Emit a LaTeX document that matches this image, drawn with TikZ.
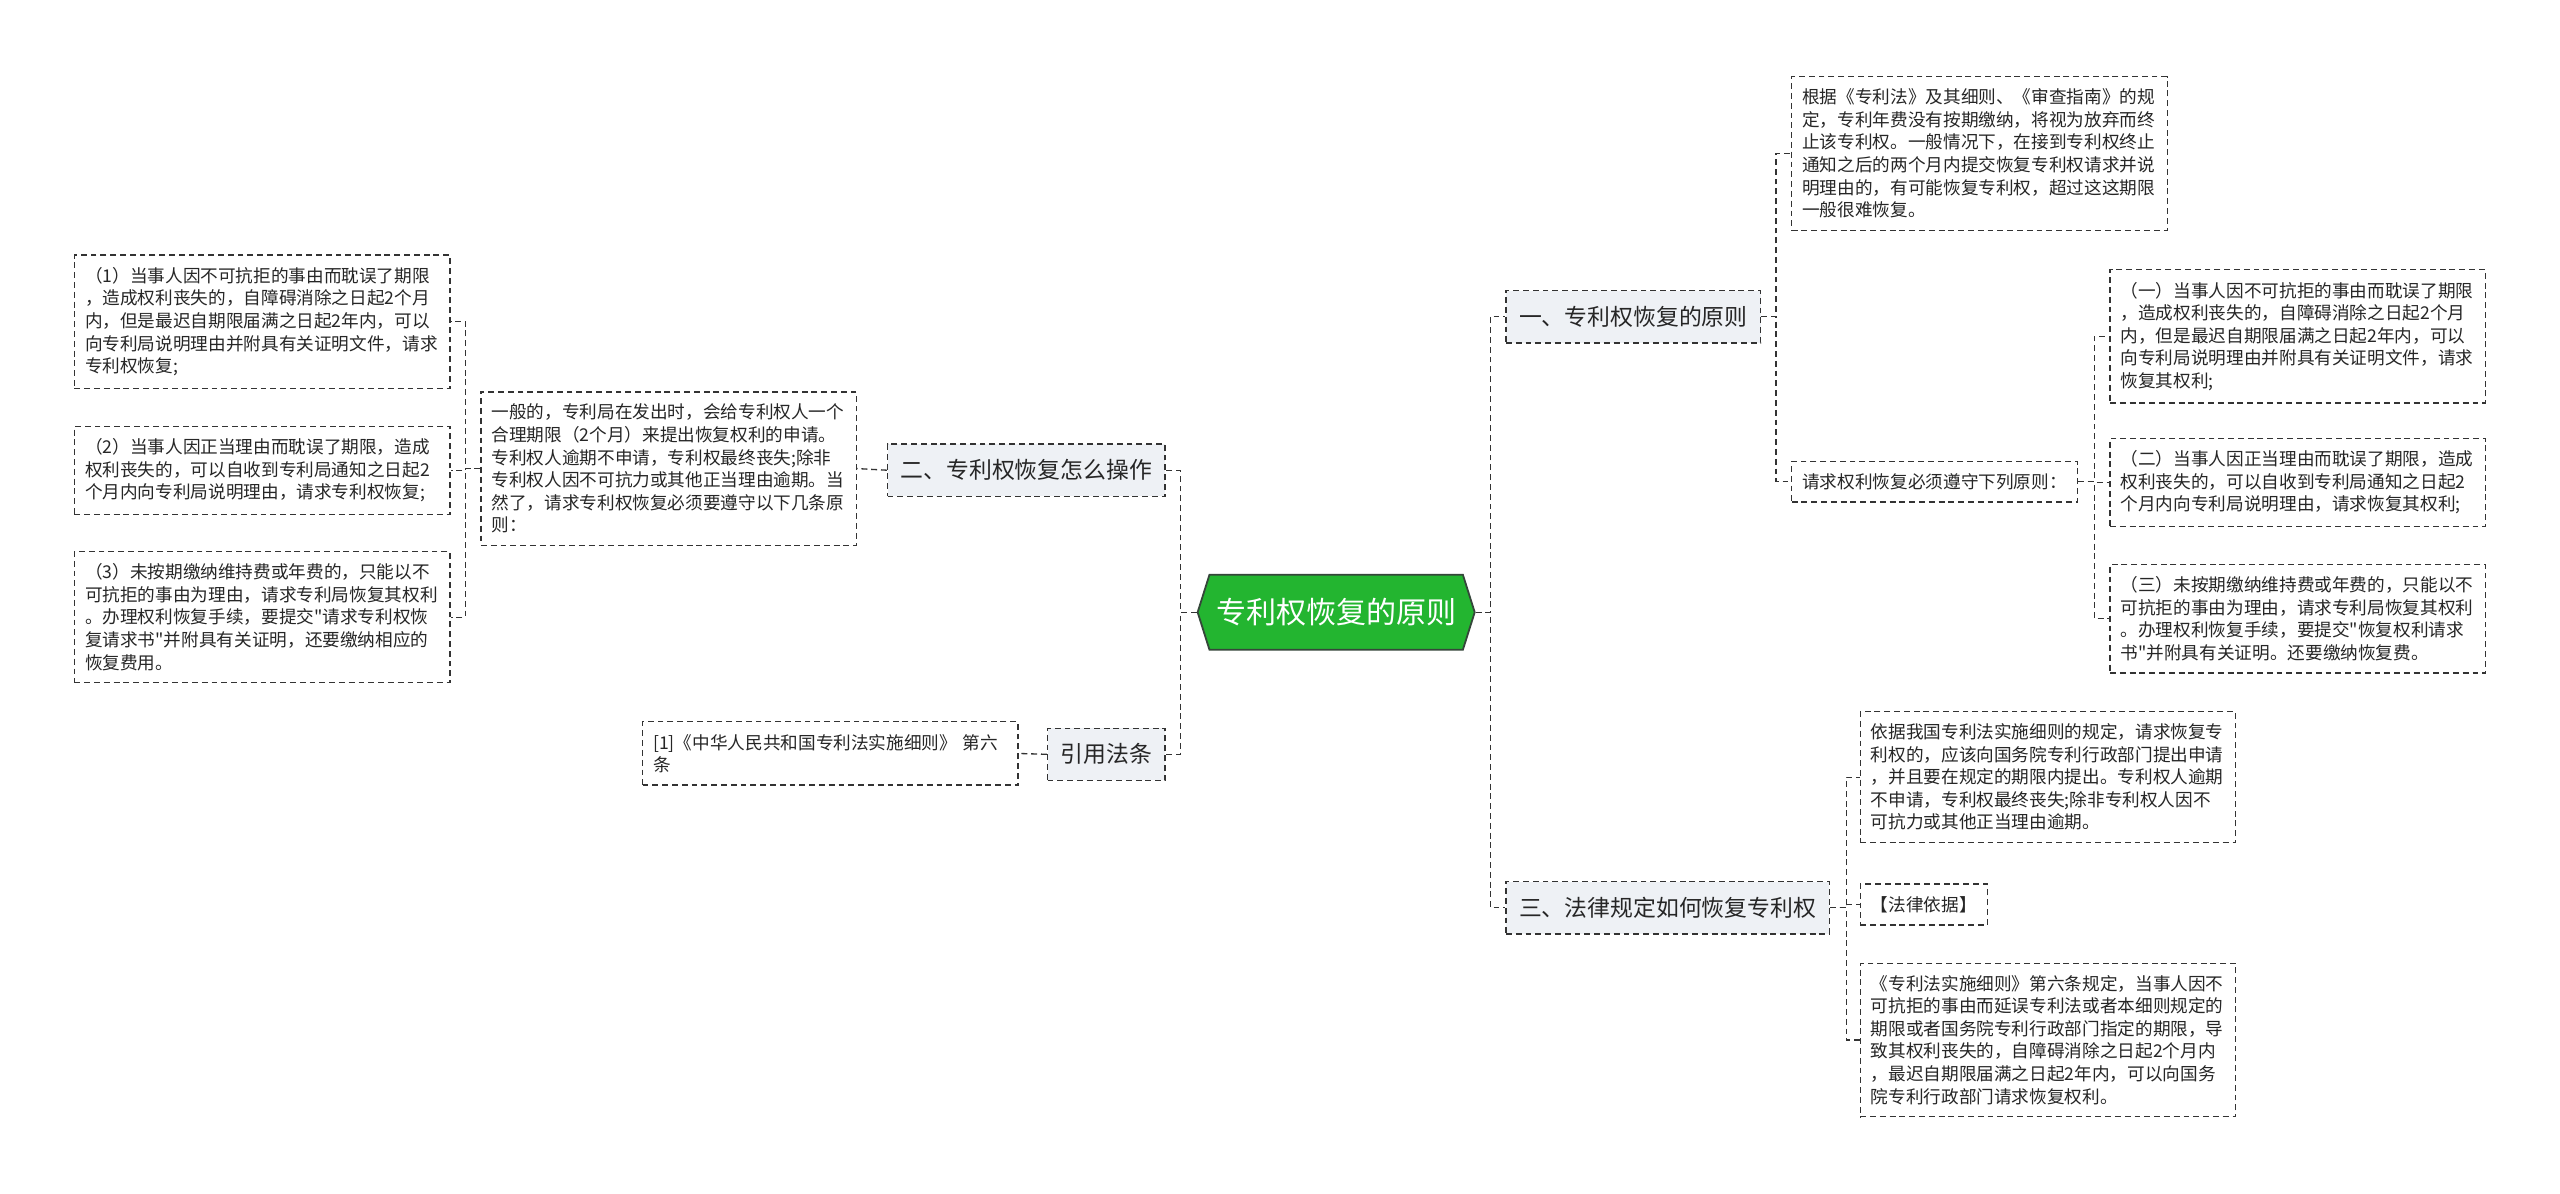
\documentclass[tikz,border=0pt]{standalone}
\usepackage{fontspec}
\setmainfont{Noto Sans CJK SC}[Ligatures=TeXOff]
\usepackage{xcolor}
\usepackage{tikz}
\usetikzlibrary{positioning,shapes.symbols}
\definecolor{rootgreen}{HTML}{23B530}
\definecolor{rootedge}{HTML}{35463A}
\definecolor{topicfill}{HTML}{EEF1F5}
\definecolor{ink}{HTML}{333333}

\tikzset{
  root/.style={signal,signal to=west and east,signal pointer angle=145,
    fill=rootgreen,draw=rootedge,line width=1.1pt,text=white,
    font=\fontsize{18.4}{22}\selectfont,minimum height=46pt,inner xsep=4pt,inner ysep=0pt},
  topic/.style={draw=ink,line width=0.8pt,dash pattern=on 3.6pt off 2.4pt,
    fill=topicfill,text=black!85,font=\fontsize{14}{17}\selectfont,
    inner xsep=8pt,minimum height=32pt},
  note/.style={draw=ink,line width=0.8pt,dash pattern=on 3.6pt off 2.4pt,
    fill=white,text=black!85,font=\fontsize{10.8}{13.8}\selectfont,
    align=left,inner xsep=6.5pt,inner ysep=7.5pt},
  wide note/.style={note,text width=217pt},
  link/.style={draw=ink,line width=0.8pt,dash pattern=on 3.6pt off 2.4pt}
}

\begin{document}
\begin{tikzpicture}[x=1pt,y=-1pt]
  \fill[white] (0,0) rectangle (1568,731);
  \useasboundingbox (0,0) rectangle (1568,731);

  % centre
  \node[root] (root) at (818.4,375) {专利权恢复的原则};

  % right side
  \node[topic,anchor=west] (p1) at (922,194) {一、专利权恢复的原则};
  \node[wide note,anchor=west] (p1a) at (1097,94)
    {根据《专利法》及其细则、《审查指南》的规\\
     定，专利年费没有按期缴纳，将视为放弃而终\\
     止该专利权。一般情况下，在接到专利权终止\\
     通知之后的两个月内提交恢复专利权请求并说\\
     明理由的，有可能恢复专利权，超过这这期限\\
     一般很难恢复。};
  \node[note,anchor=west] (p1b) at (1097,295) {请求权利恢复必须遵守下列原则：};
  \node[wide note,anchor=west] (p1b1) at (1292,206)
    {（一）当事人因不可抗拒的事由而耽误了期限\\
     ，造成权利丧失的，自障碍消除之日起2个月\\
     内，但是最迟自期限届满之日起2年内，可以\\
     向专利局说明理由并附具有关证明文件，请求\\
     恢复其权利;};
  \node[wide note,anchor=west] (p1b2) at (1292,295.5)
    {（二）当事人因正当理由而耽误了期限，造成\\
     权利丧失的，可以自收到专利局通知之日起2\\
     个月内向专利局说明理由，请求恢复其权利;};
  \node[wide note,anchor=west] (p1b3) at (1292,379)
    {（三）未按期缴纳维持费或年费的，只能以不\\
     可抗拒的事由为理由，请求专利局恢复其权利\\
     。办理权利恢复手续，要提交"恢复权利请求\\
     书"并附具有关证明。还要缴纳恢复费。};

  \node[topic,anchor=west] (p3) at (922,556) {三、法律规定如何恢复专利权};
  \node[wide note,anchor=west] (p3a) at (1139,476)
    {依据我国专利法实施细则的规定，请求恢复专\\
     利权的，应该向国务院专利行政部门提出申请\\
     ，并且要在规定的期限内提出。专利权人逾期\\
     不申请，专利权最终丧失;除非专利权人因不\\
     可抗力或其他正当理由逾期。};
  \node[note,anchor=west] (p3b) at (1139,554) {【法律依据】};
  \node[wide note,anchor=west] (p3c) at (1139,637)
    {《专利法实施细则》第六条规定，当事人因不\\
     可抗拒的事由而延误专利法或者本细则规定的\\
     期限或者国务院专利行政部门指定的期限，导\\
     致其权利丧失的，自障碍消除之日起2个月内\\
     ，最迟自期限届满之日起2年内，可以向国务\\
     院专利行政部门请求恢复权利。};

  % left side
  \node[topic,anchor=east] (p2) at (714,288) {二、专利权恢复怎么操作};
  \node[wide note,anchor=east] (p2a) at (525,287)
    {一般的，专利局在发出时，会给专利权人一个\\
     合理期限（2个月）来提出恢复权利的申请。\\
     专利权人逾期不申请，专利权最终丧失;除非\\
     专利权人因不可抗力或其他正当理由逾期。当\\
     然了，请求专利权恢复必须要遵守以下几条原\\
     则：};
  \node[wide note,anchor=east] (p2a1) at (276,197)
    {（1）当事人因不可抗拒的事由而耽误了期限\\
     ，造成权利丧失的，自障碍消除之日起2个月\\
     内，但是最迟自期限届满之日起2年内，可以\\
     向专利局说明理由并附具有关证明文件，请求\\
     专利权恢复;};
  \node[wide note,anchor=east] (p2a2) at (276,288)
    {（2）当事人因正当理由而耽误了期限，造成\\
     权利丧失的，可以自收到专利局通知之日起2\\
     个月内向专利局说明理由，请求专利权恢复;};
  \node[wide note,anchor=east] (p2a3) at (276,378)
    {（3）未按期缴纳维持费或年费的，只能以不\\
     可抗拒的事由为理由，请求专利局恢复其权利\\
     。办理权利恢复手续，要提交"请求专利权恢\\
     复请求书"并附具有关证明，还要缴纳相应的\\
     恢复费用。};

  \node[topic,anchor=east] (law) at (714,462) {引用法条};
  \node[wide note,anchor=east] (lawa) at (624,461.5)
    {[1]《中华人民共和国专利法实施细则》 第六\\
     条};

  % connectors
  \draw[link] (root.east) -- ++(9,0) |- (p1.west);
  \draw[link] (root.east) -- ++(9,0) |- (p3.west);
  \draw[link] (root.west) -- ++(-10,0) |- (p2.east);
  \draw[link] (root.west) -- ++(-10,0) |- (law.east);
  \draw[link] (p1.east) -- ++(9,0) |- (p1a.west);
  \draw[link] (p1.east) -- ++(9,0) |- (p1b.west);
  \foreach \n in {p1b1,p1b2,p1b3}
    \draw[link] (p1b.east) -- ++(10,0) |- (\n.west);
  \foreach \n in {p3a,p3b,p3c}
    \draw[link] (p3.east) -- ++(10,0) |- (\n.west);
  \draw[link] (p2.west) -- (p2a.east);
  \foreach \n in {p2a1,p2a2,p2a3}
    \draw[link] (p2a.west) -- ++(-9,0) |- (\n.east);
  \draw[link] (law.west) -- (lawa.east);
\end{tikzpicture}
\end{document}
